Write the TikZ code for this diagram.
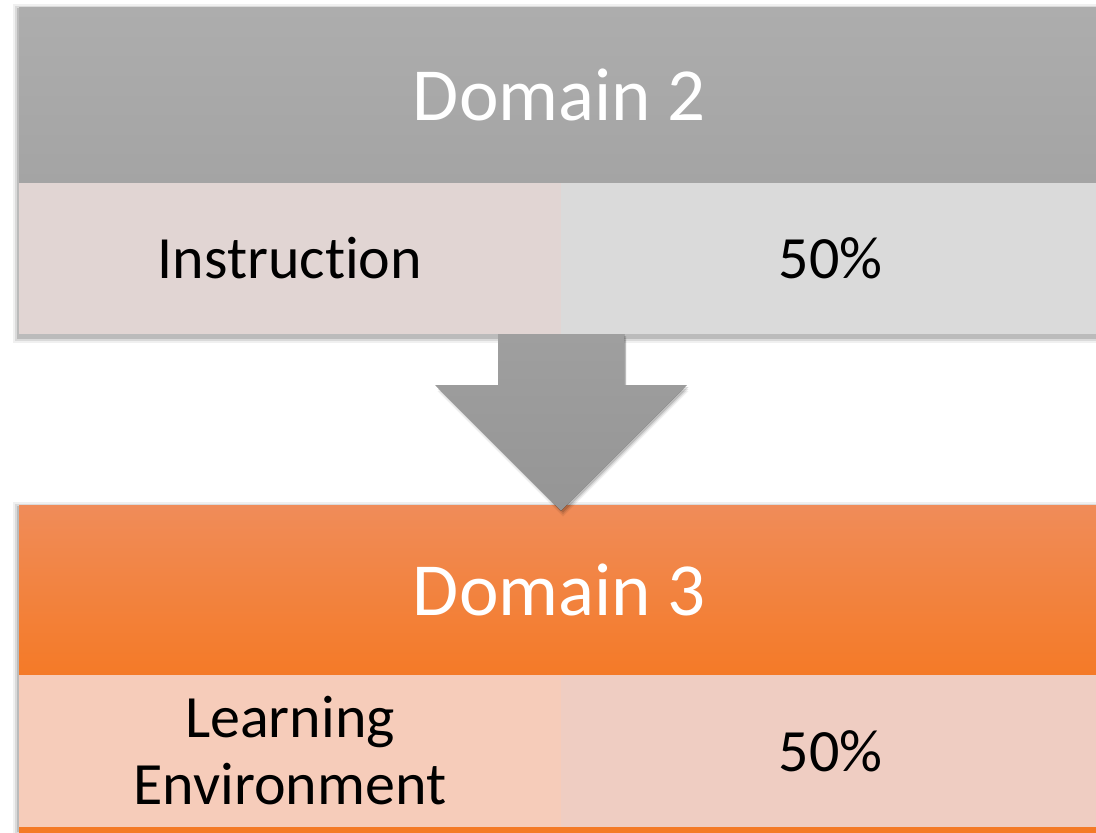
\documentclass[tikz,border=0pt]{standalone}
\usepackage{fontspec}
\setmainfont{Carlito}[Ligatures=NoCommon]
\usetikzlibrary{positioning,backgrounds}

\definecolor{headgraytop}{HTML}{ADADAD}
\definecolor{headgraybot}{HTML}{A4A4A4}
\definecolor{instpink}{HTML}{E1D5D3}
\definecolor{pctgray}{HTML}{DADADA}
\definecolor{arrowtop}{HTML}{9F9F9F}
\definecolor{arrowbot}{HTML}{959595}
\definecolor{orangetop}{HTML}{F08C59}
\definecolor{orangebot}{HTML}{F47A27}
\definecolor{learnpink}{HTML}{F6CCBA}
\definecolor{pctpink}{HTML}{EFCDC2}

\tikzset{
  head/.style={inner sep=0pt, outer sep=0pt, anchor=north west, text=white,
    font=\fontsize{75}{90}\selectfont, minimum width=1081pt, minimum height=#1},
  cell/.style={inner sep=0pt, outer sep=0pt, text=black, align=center,
    font=\fontsize{60}{67}\selectfont, minimum height=#1},
  softshadow/.style={fill=black, opacity=#1}
}

\begin{document}
\begin{tikzpicture}[x=1pt,y=-1pt]
  \useasboundingbox (0,0) rectangle (1096,833);

  % domain 2
  \node[head=176pt, top color=headgraytop, bottom color=headgraybot] (hdrtwo) at (19,7) {Domain 2};
  \node[cell=151pt, minimum width=542pt, fill=instpink, anchor=north west] (insttwo) at (hdrtwo.south west) {Instruction};
  \node[cell=151pt, minimum width=539pt, fill=pctgray, right=0pt of insttwo] (pcttwo) {50\%};

  % domain 3
  \node[head=170pt, top color=orangetop, bottom color=orangebot] (hdrthree) at (19,505) {Domain 3};
  \node[cell=152pt, minimum width=542pt, fill=learnpink, anchor=north west] (learnthree) at (hdrthree.south west) {Learning\\Environment};
  \node[cell=152pt, minimum width=539pt, fill=pctpink, right=0pt of learnthree] (pctthree) {50\%};
  \fill[orangebot] (learnthree.south west) rectangle ++(1081,20);

  \begin{scope}[on background layer]
    \fill[white] (0,0) rectangle (1096,833);
    \foreach \s/\o in {6/0.06,4/0.09,2/0.14} {
      \fill[softshadow=\o] ([xshift=-\s pt,yshift=\s pt-3pt]hdrtwo.north west) rectangle ([xshift=\s pt,yshift=-\s pt-3pt]pcttwo.south east);
      \fill[softshadow=\o] ([xshift=-\s pt,yshift=\s pt-3pt]hdrthree.north west) rectangle ([xshift=\s pt,yshift=-\s pt-3pt]pctthree.south east);
    }
  \end{scope}

  % arrow between the blocks
  \coordinate (tail) at (insttwo.south east);
  \foreach \s/\o in {6/0.06,4/0.09,2/0.14} {
    \fill[softshadow=\o] ([xshift=2pt,yshift=-\s pt]tail) ++(-63,0) -- ++(0,51) -- ++(-62.5,0) -- ++(125.5,125.5)
      -- ++(125.5,-125.5) -- ++(-62.5,0) -- ++(0,-51) -- cycle;
  }
  \fill[top color=arrowtop, bottom color=arrowbot] (tail) ++(-63,0) -- ++(0,51) -- ++(-62.5,0) -- ++(125.5,125.5)
    -- ++(125.5,-125.5) -- ++(-62.5,0) -- ++(0,-51) -- cycle;
\end{tikzpicture}
\end{document}
